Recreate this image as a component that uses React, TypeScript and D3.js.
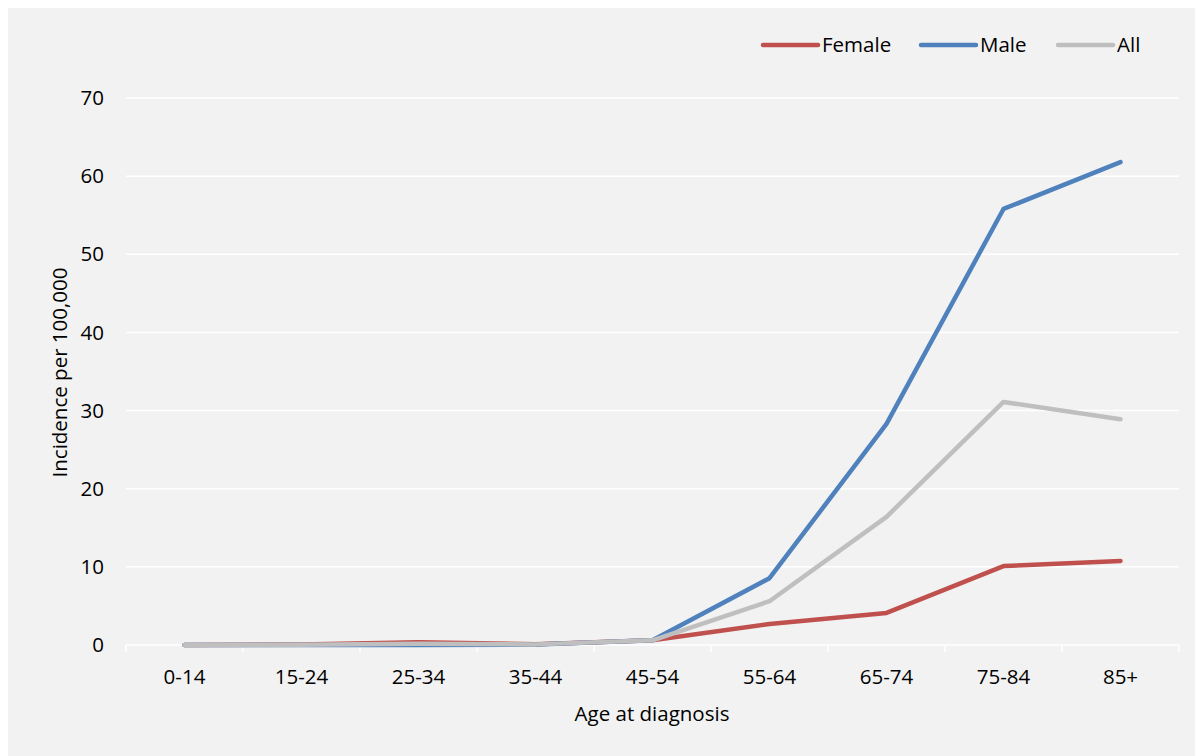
import React from "react";
import * as d3 from "d3";

const ageGroups = ["0-14", "15-24", "25-34", "35-44", "45-54", "55-64", "65-74", "75-84", "85+"];
const femaleRates = [0.0, 0.05, 0.35, 0.1, 0.6, 2.7, 4.1, 10.1, 10.75];
const maleRates = [0.0, 0.0, 0.0, 0.05, 0.6, 8.55, 28.3, 55.8, 61.8];
const allRates = [0.0, 0.02, 0.15, 0.08, 0.6, 5.6, 16.4, 31.1, 28.9];
const yTicks = [0, 10, 20, 30, 40, 50, 60, 70];

const seriesList = [
  { name: "Female", values: femaleRates, color: "#C0504D" },
  { name: "Male", values: maleRates, color: "#4F81BD" },
  { name: "All", values: allRates, color: "#BFBFBF" },
];

const W = 1195;
const H = 748;
const FONT = "'Open Sans', Lato, sans-serif";
const FS = 20.5;

export default function App() {
  // plot region in svg coordinates (svg sits at 8,8 in the page)
  const left = 118;
  const right = 1171;
  const top = 90;
  const bottom = 637;

  const x = d3.scaleBand<string>().domain(ageGroups).range([left, right]);
  const y = d3.scaleLinear().domain([0, 70]).range([bottom, top]);
  const cx = (c: string) => (x(c) ?? 0) + x.bandwidth() / 2;

  const line = d3
    .line<number>()
    .x((_, i) => cx(ageGroups[i]))
    .y((v) => y(v));

  const boundaries = ageGroups.map((c) => x(c) ?? 0).concat([right]);

  const legendItems = [
    { name: "Female", x0: 755, color: "#C0504D" },
    { name: "Male", x0: 913, color: "#4F81BD" },
    { name: "All", x0: 1050, color: "#BFBFBF" },
  ];

  return (
    <svg width={W} height={H} style={{ display: "block" }} fontFamily={FONT}>
      <rect x={0} y={0} width={W} height={H} fill="#F2F2F2" />
      {yTicks.slice(1).map((t) => (
        <line key={t} x1={left} x2={right} y1={y(t)} y2={y(t)} stroke="#FFFFFF" strokeWidth={1.5} />
      ))}
      <line x1={left} x2={right} y1={bottom} y2={bottom} stroke="#FFFFFF" strokeWidth={1.5} />
      {boundaries.map((b, i) => (
        <line key={i} x1={b} x2={b} y1={bottom} y2={bottom + 7} stroke="#FFFFFF" strokeWidth={1.5} />
      ))}
      {yTicks.map((t) => (
        <text key={t} x={96} y={y(t)} dy="0.35em" textAnchor="end" fontSize={FS} fill="#000">
          {t}
        </text>
      ))}
      {ageGroups.map((c) => (
        <text key={c} x={cx(c)} y={669} dy="0.35em" textAnchor="middle" fontSize={FS} fill="#000">
          {c}
        </text>
      ))}
      <text
        transform={`translate(52, ${(top + bottom) / 2 + 1}) rotate(-90)`}
        textAnchor="middle"
        dy="0.35em"
        fontSize={FS}
        fill="#000"
      >
        Incidence per 100,000
      </text>
      <text x={644} y={706} dy="0.35em" textAnchor="middle" fontSize={FS} fill="#000">
        Age at diagnosis
      </text>
      {seriesList.map((s) => (
        <path
          key={s.name}
          d={line(s.values) ?? ""}
          fill="none"
          stroke={s.color}
          strokeWidth={4.5}
          strokeLinejoin="round"
          strokeLinecap="round"
        />
      ))}
      {legendItems.map((l) => (
        <g key={l.name}>
          <line x1={l.x0} x2={l.x0 + 55} y1={37} y2={37} stroke={l.color} strokeWidth={4.5} strokeLinecap="round" />
          <text x={l.x0 + 59} y={37} dy="0.35em" fontSize={FS} fill="#000">
            {l.name}
          </text>
        </g>
      ))}
    </svg>
  );
}
